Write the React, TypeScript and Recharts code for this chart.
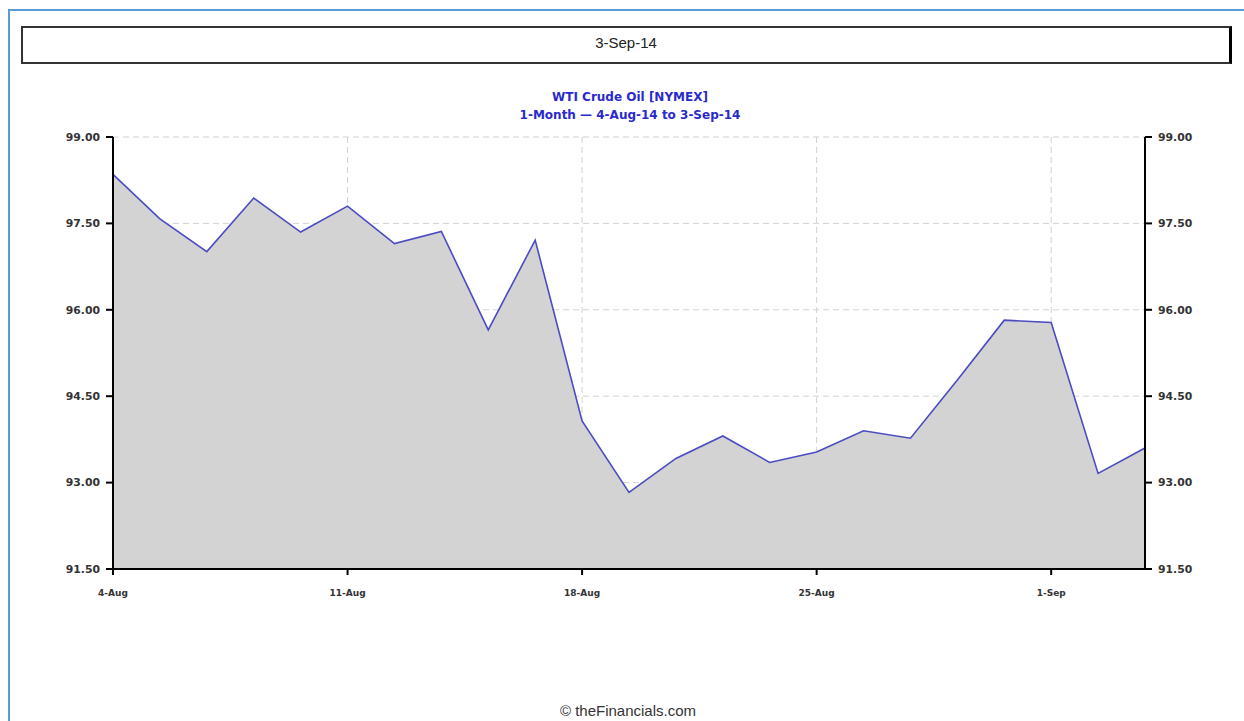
import { ComposedChart, Area, Line, XAxis, YAxis, CartesianGrid } from 'recharts';

const dates = [
  '4-Aug', '5-Aug', '6-Aug', '7-Aug', '8-Aug',
  '11-Aug', '12-Aug', '13-Aug', '14-Aug', '15-Aug',
  '18-Aug', '19-Aug', '20-Aug', '21-Aug', '22-Aug',
  '25-Aug', '26-Aug', '27-Aug', '28-Aug', '29-Aug',
  '1-Sep', '2-Sep', '3-Sep',
];

const prices = [
  98.35, 97.58, 97.01, 97.94, 97.35,
  97.8, 97.15, 97.36, 95.65, 97.21,
  94.07, 92.83, 93.42, 93.81, 93.35,
  93.53, 93.9, 93.77, 94.78, 95.82,
  95.78, 93.16, 93.6,
];

const yTicks = [91.5, 93, 94.5, 96, 97.5, 99];
const xTicks = [0, 5, 10, 15, 20];

const chartData = prices.map((price, i) => ({ idx: i, date: dates[i], price }));

const FONT = 'Arial, "Liberation Sans", sans-serif';
const WIDE = '"DejaVu Sans", Verdana, sans-serif';
const axisTick = { fontSize: 10.8, fontWeight: 700, fill: '#333', fontFamily: WIDE };

export default function App() {
  return (
    <div style={{ position: 'absolute', left: 0, top: 0, width: 1244, height: 721, overflow: 'hidden', background: '#fff', fontFamily: FONT }}>
      <div
        style={{
          position: 'absolute',
          left: 8,
          top: 9,
          width: 1260,
          height: 740,
          borderLeft: '2px solid #5b9bd5',
          borderTop: '2px solid #5b9bd5',
        }}
      />
      <div
        style={{
          position: 'absolute',
          left: 21,
          top: 26,
          width: 1206,
          height: 34,
          border: '2px solid #333',
          borderRightWidth: 3,
          borderRightColor: '#000',
          textAlign: 'center',
          lineHeight: '30px',
          fontSize: 15,
          color: '#222',
        }}
      >
        3-Sep-14
      </div>
      <div style={{ position: 'absolute', left: 0, width: 1260, top: 88, textAlign: 'center', color: '#2a2acc', fontSize: 12, fontWeight: 700, lineHeight: '18px', fontFamily: WIDE }}>
        <div>WTI Crude Oil [NYMEX]</div>
        <div>1-Month — 4-Aug-14 to 3-Sep-14</div>
      </div>
      <ComposedChart
        width={1244}
        height={721}
        data={chartData}
        margin={{ top: 137, left: 53, right: 39, bottom: 122 }}
        style={{ position: 'absolute', left: 0, top: 0 }}
      >
        <CartesianGrid yAxisId="left" stroke="#d2d2d2" strokeDasharray="6 4" />
        <XAxis
          dataKey="idx"
          type="number"
          domain={[0, 22]}
          ticks={xTicks}
          tickFormatter={(v: number) => dates[v]}
          tick={{ ...axisTick, fontSize: 9 }}
          tickSize={6}
          tickMargin={15}
          height={30}
          stroke="#000"
          strokeWidth={2}
          tickLine={{ stroke: '#000', strokeWidth: 2 }}
        />
        <YAxis
          yAxisId="left"
          type="number"
          domain={[91.5, 99]}
          ticks={yTicks}
          tickFormatter={(v: number) => v.toFixed(2)}
          tick={axisTick}
          width={60}
          tickSize={7}
          tickMargin={6}
          stroke="#000"
          strokeWidth={2}
          tickLine={{ stroke: '#000', strokeWidth: 2 }}
        />
        <YAxis
          yAxisId="right"
          type="number"
          orientation="right"
          domain={[91.5, 99]}
          ticks={yTicks}
          allowDataOverflow
          tickFormatter={(v: number) => v.toFixed(2)}
          tick={axisTick}
          width={60}
          tickSize={7}
          tickMargin={6}
          stroke="#000"
          strokeWidth={2}
          tickLine={{ stroke: '#000', strokeWidth: 2 }}
        />
        <Area
          yAxisId="left"
          type="linear"
          dataKey="price"
          stroke="#4b4bc4"
          strokeWidth={1.6}
          fill="#d3d3d3"
          fillOpacity={1}
          dot={false}
          activeDot={false}
          baseValue={91.5}
          isAnimationActive={false}
        />
        <Line
          yAxisId="right"
          type="linear"
          dataKey="price"
          stroke="none"
          dot={false}
          activeDot={false}
          isAnimationActive={false}
        />
      </ComposedChart>
      <div style={{ position: 'absolute', left: 0, width: 1256, top: 702, textAlign: 'center', fontSize: 15, color: '#333' }}>
        © theFinancials.com
      </div>
    </div>
  );
}
